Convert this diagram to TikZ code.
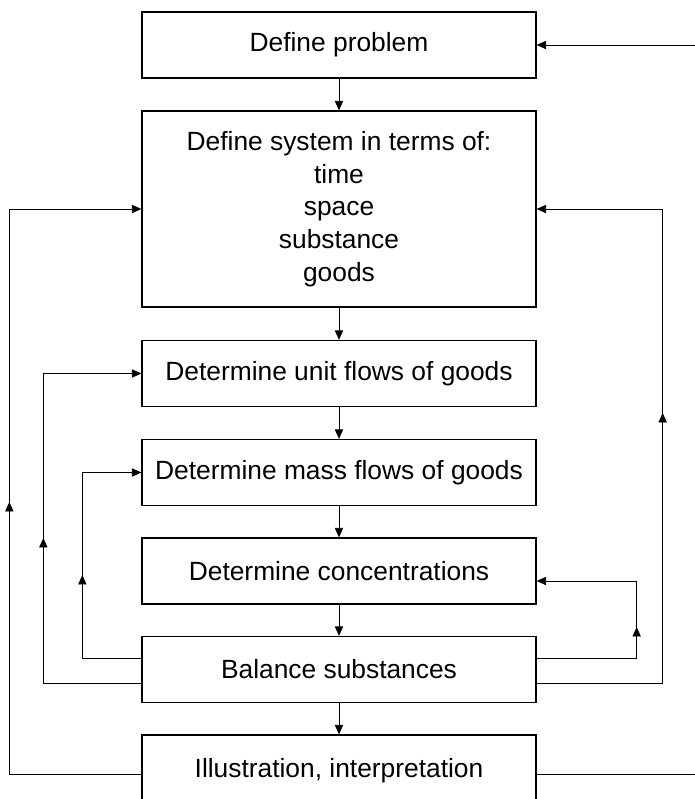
\documentclass[tikz,border=0pt]{standalone}
\usepackage{fontspec}
\setmainfont{Liberation Sans}
\usetikzlibrary{arrows.meta,calc,decorations.markings}

\begin{document}
\begin{tikzpicture}[x=0.03cm,y=-0.03cm,
	box/.style={draw,line width=1.1pt,minimum width=11.82cm,minimum height=1.98cm,inner sep=0pt,align=center,font=\fontsize{22.5}{28}\selectfont},
	flow/.style={line width=0.6pt,-{Triangle[length=8pt,width=7pt]}},
	up at/.style={decoration={markings,mark=at position #1 with {\arrow{Triangle[length=8pt,width=7pt]}}},postaction={decorate}}]
	\useasboundingbox (0,0) rectangle (695,799);
	\clip (0,0) rectangle (695,799);
	% steps
	\node[box] (problem) at (339,45) {Define problem};
	\node[box,minimum height=5.88cm] (system) at (339,209) {Define system in terms of:\\time\\space\\substance\\goods};
	\node[box] (unit) at (339,373.5) {Determine unit flows of goods};
	\node[box] (mass) at (339,472.5) {Determine mass flows of goods};
	\node[box] (conc) at (339,571) {Determine concentrations};
	\node[box] (balance) at (339,669.5) {Balance substances};
	\node[box,minimum height=2.16cm] (illus) at (339,771) {Illustration, interpretation};
	% main line
	\draw[flow] (problem) -- (system);
	\draw[flow] (system) -- (unit);
	\draw[flow] (unit) -- (mass);
	\draw[flow] (mass) -- (conc);
	\draw[flow] (conc) -- (balance);
	\draw[flow] (balance) -- (illus);
	% feedback loops
	\draw[flow,up at=12.12cm] ($(illus.west)+(0,3)$) -| ($(system.west)+(-132,0)$) -- (system.west);
	\draw[flow,up at=7.29cm] ($(balance.west)+(0,13.5)$) -| ($(unit.west)+(-98,0)$) -- (unit.west);
	\draw[flow,up at=4.26cm] ($(balance.west)+(0,-11.5)$) -| ($(mass.west)+(-59,0)$) -- (mass.west);
	\draw[flow,up at=3.93cm] ($(balance.east)+(0,-11.5)$) -| ($(conc.east)+(100,10)$) -- ($(conc.east)+(0,10)$);
	\draw[flow,up at=11.88cm] ($(balance.east)+(0,13.5)$) -| ($(system.east)+(126,0)$) -- (system.east);
	\draw[flow] ($(illus.east)+(0,3)$) -| ($(problem.east)+(175,0)$) -- (problem.east);
\end{tikzpicture}
\end{document}
